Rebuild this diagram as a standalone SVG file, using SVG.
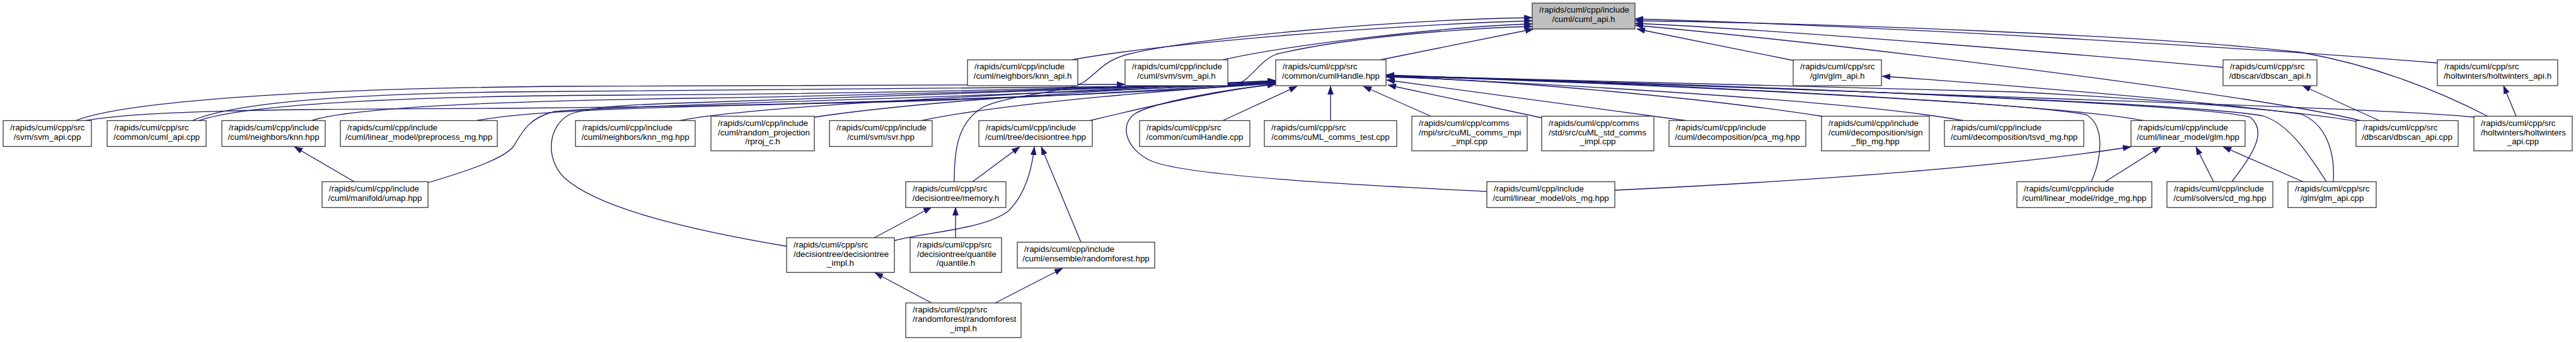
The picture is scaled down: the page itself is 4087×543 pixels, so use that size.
<svg xmlns="http://www.w3.org/2000/svg" width="4087" height="543" viewBox="0 0 4087 543">
<style>
.n rect{fill:#fff;stroke:#3a3a3a;stroke-width:1.3}
.n.f rect{fill:#bfbfbf}
text{font-family:"Liberation Sans",Arial,Helvetica,sans-serif;font-size:13.33px;fill:#000}
.c{text-anchor:middle}
#edges path{fill:none;stroke:#191970;stroke-width:1.3;marker-end:url(#ah)}
</style>
<defs>
<marker id="ah" markerUnits="userSpaceOnUse" markerWidth="14" markerHeight="11" refX="13" refY="4.7" orient="auto">
<path d="M0,0 L13,4.7 L0,9.4 z" fill="#191970" stroke="#191970" stroke-width="0.5"/>
</marker>
</defs>
<rect width="4087" height="543" fill="#fff"/>
<g id="edges">
<!-- to cuml_api.h -->
<path d="M2190,95 L2433,46"/>
<path d="M1940,95 C2050,70 2300,42 2431,38"/>
<path d="M1700,95 C1850,68 2200,40 2431,33"/>
<path d="M1514,288 C1514,240 1518,195 1560,170 C1600,150 1690,148 1720,130 C1745,112 1752,96 1790,86 C1900,60 2200,32 2431,28"/>
<path d="M305,191.5 C360,168 500,150 800,146 C1300,141 1800,138 1955,136 C1985,130 1995,98 2025,86 C2150,56 2350,44 2431,42"/>
<path d="M2850,97 L2597,46"/>
<path d="M3527,107 C3300,86 2800,46 2594,37"/>
<path d="M3745,191.5 C3600,155 3000,78 2594,40"/>
<path d="M3867,100 C3600,78 3000,42 2594,30"/>
<path d="M3947,184.5 C3880,150 3780,106 3650,83 C3400,55 2900,37 2594,33"/>
<!-- to svm_api.h -->
<path d="M120,191.5 C200,160 500,140 900,137 C1300,134 1600,136 1785,134"/>
<!-- to cumlHandle.hpp left bundle -->
<path d="M135,191.5 C220,176 420,173 800,172 C1300,168 1800,150 2024,132"/>
<path d="M315,191.5 C400,162 700,152 1000,151 C1500,148 1850,136 2024,128"/>
<path d="M494,191.5 C560,170 800,160 1100,156 C1500,150 1850,136 2024,129"/>
<path d="M756,191.5 C850,173 1100,169 1400,162 C1700,154 1900,138 2024,131"/>
<path d="M1079,191.5 C1200,166 1700,146 2024,128"/>
<path d="M1292,186 C1500,155 1850,139 2024,130"/>
<path d="M1462,191.5 C1600,162 1900,140 2024,132"/>
<path d="M1729,191.5 C1850,162 1950,142 2024,133"/>
<path d="M679,290 C740,272 800,252 815,232 C830,206 842,186 880,177 C1000,166 1700,151 2024,130"/>
<path d="M1248,391 C1100,366 950,332 895,282 C865,252 868,200 905,181 C940,169 1000,166 1100,163 C1500,152 1850,137 2024,131"/>
<path d="M2359,304 C2200,296 1900,282 1830,257 C1788,240 1774,200 1800,181 C1830,162 1950,141 2024,134"/>
<!-- to cumlHandle.hpp bottom -->
<path d="M1940,191.5 L2058,137"/>
<path d="M2111,191.5 L2111,137"/>
<path d="M2270,184.5 L2163,137"/>
<path d="M2446,187 L2202,135"/>
<!-- to cumlHandle.hpp right bundle -->
<path d="M2675,191.5 L2200,127"/>
<path d="M2893,185 C2700,155 2400,128 2199,122"/>
<path d="M3115,191.5 C3000,170 2700,145 2199,121"/>
<path d="M3401,191.5 C3300,170 2800,140 2199,120"/>
<path d="M3318,288.5 C3335,250 3340,200 3310,182 C3200,162 2600,131 2199,120"/>
<path d="M3541,288.5 C3570,250 3600,210 3570,186 C3500,166 2800,136 2199,120"/>
<path d="M3691,288.5 C3660,240 3630,196 3590,184 C3500,166 2800,136 2199,121"/>
<path d="M3740,193 C3650,176 3400,156 3200,146 C2800,133 2400,125 2199,120"/>
<path d="M3925,186 C3850,178 3600,168 3300,158 C2900,141 2500,128 2199,119"/>
<!-- glm_api.h -->
<path d="M3702,288.5 C3705,240 3690,196 3650,181 C3500,161 3200,136 2986,121"/>
<!-- glm.hpp -->
<path d="M2562,302 C2900,286 3200,262 3381,233"/>
<path d="M3340,288.5 L3428,233"/>
<path d="M3512,288.5 L3484,233"/>
<path d="M3654,288.5 L3527,233"/>
<!-- lower part -->
<path d="M562,288.5 L467,233"/>
<path d="M1543,288.5 L1618,233"/>
<path d="M1387,377.5 L1478,329"/>
<path d="M1419,382 C1470,368 1560,365 1600,335 C1630,305 1638,262 1641,233"/>
<path d="M1516,377.5 L1516,329"/>
<path d="M1715,384.5 L1652,233"/>
<path d="M1478,481 L1388,433"/>
<path d="M1579,481 L1686,426"/>
<path d="M3992,184.5 L3972,136"/>
<path d="M3775,191.5 L3653,136"/>
</g>
<g id="n_cuml_api_h" class="n f"><rect x="2431" y="5" width="163" height="41"/><text x="2442" y="20.3">/rapids/cuml/cpp/include</text><text class="c" x="2512.5" y="35">/cuml/cuml_api.h</text></g>
<g id="n_knn_api_h" class="n"><rect x="1535" y="95" width="175" height="41"/><text x="1546" y="110.3">/rapids/cuml/cpp/include</text><text class="c" x="1622.5" y="125">/cuml/neighbors/knn_api.h</text></g>
<g id="n_svm_api_h" class="n"><rect x="1785" y="95" width="163" height="41"/><text x="1796" y="110.3">/rapids/cuml/cpp/include</text><text class="c" x="1866.5" y="125">/cuml/svm/svm_api.h</text></g>
<g id="n_cumlHandle_hpp" class="n"><rect x="2024" y="95" width="175" height="41"/><text x="2035" y="110.3">/rapids/cuml/cpp/src</text><text class="c" x="2111.5" y="125">/common/cumlHandle.hpp</text></g>
<g id="n_glm_api_h" class="n"><rect x="2845" y="95" width="140" height="41"/><text x="2856" y="110.3">/rapids/cuml/cpp/src</text><text class="c" x="2915" y="125">/glm/glm_api.h</text></g>
<g id="n_dbscan_api_h" class="n"><rect x="3527" y="95" width="149" height="41"/><text x="3538" y="110.3">/rapids/cuml/cpp/src</text><text class="c" x="3601.5" y="125">/dbscan/dbscan_api.h</text></g>
<g id="n_holtwinters_api_h" class="n"><rect x="3867" y="95" width="191" height="41"/><text x="3878" y="110.3">/rapids/cuml/cpp/src</text><text class="c" x="3962.5" y="125">/holtwinters/holtwinters_api.h</text></g>
<g id="n_svm_api_cpp" class="n"><rect x="5" y="191.5" width="140" height="41"/><text x="16" y="206.8">/rapids/cuml/cpp/src</text><text class="c" x="75" y="221.5">/svm/svm_api.cpp</text></g>
<g id="n_cuml_api_cpp" class="n"><rect x="170" y="191.5" width="157" height="41"/><text x="181" y="206.8">/rapids/cuml/cpp/src</text><text class="c" x="248.5" y="221.5">/common/cuml_api.cpp</text></g>
<g id="n_knn_hpp" class="n"><rect x="352" y="191.5" width="164" height="41"/><text x="363" y="206.8">/rapids/cuml/cpp/include</text><text class="c" x="434" y="221.5">/cuml/neighbors/knn.hpp</text></g>
<g id="n_preprocess_mg_hpp" class="n"><rect x="540" y="191.5" width="249" height="41"/><text x="551" y="206.8">/rapids/cuml/cpp/include</text><text class="c" x="664.5" y="221.5">/cuml/linear_model/preprocess_mg.hpp</text></g>
<g id="n_knn_mg_hpp" class="n"><rect x="913" y="191.5" width="190" height="41"/><text x="924" y="206.8">/rapids/cuml/cpp/include</text><text class="c" x="1008" y="221.5">/cuml/neighbors/knn_mg.hpp</text></g>
<g id="n_rproj_c_h" class="n"><rect x="1128" y="184.5" width="164" height="55"/><text x="1139" y="199.8">/rapids/cuml/cpp/include</text><text x="1139" y="214.5">/cuml/random_projection</text><text class="c" x="1210" y="229.2">/rproj_c.h</text></g>
<g id="n_svr_hpp" class="n"><rect x="1316" y="191.5" width="163" height="41"/><text x="1327" y="206.8">/rapids/cuml/cpp/include</text><text class="c" x="1397.5" y="221.5">/cuml/svm/svr.hpp</text></g>
<g id="n_decisiontree_hpp" class="n"><rect x="1553" y="191.5" width="180" height="41"/><text x="1564" y="206.8">/rapids/cuml/cpp/include</text><text class="c" x="1643" y="221.5">/cuml/tree/decisiontree.hpp</text></g>
<g id="n_cumlHandle_cpp" class="n"><rect x="1808" y="191.5" width="175" height="41"/><text x="1819" y="206.8">/rapids/cuml/cpp/src</text><text class="c" x="1895.5" y="221.5">/common/cumlHandle.cpp</text></g>
<g id="n_comms_test_cpp" class="n"><rect x="2006" y="191.5" width="210" height="41"/><text x="2017" y="206.8">/rapids/cuml/cpp/src</text><text class="c" x="2111" y="221.5">/comms/cuML_comms_test.cpp</text></g>
<g id="n_mpi_impl_cpp" class="n"><rect x="2240" y="184.5" width="183" height="55"/><text x="2251" y="199.8">/rapids/cuml/cpp/comms</text><text x="2251" y="214.5">/mpi/src/cuML_comms_mpi</text><text class="c" x="2331.5" y="229.2">_impl.cpp</text></g>
<g id="n_std_impl_cpp" class="n"><rect x="2446" y="184.5" width="178" height="55"/><text x="2457" y="199.8">/rapids/cuml/cpp/comms</text><text x="2457" y="214.5">/std/src/cuML_std_comms</text><text class="c" x="2535" y="229.2">_impl.cpp</text></g>
<g id="n_pca_mg_hpp" class="n"><rect x="2648" y="191.5" width="217" height="41"/><text x="2659" y="206.8">/rapids/cuml/cpp/include</text><text class="c" x="2756.5" y="221.5">/cuml/decomposition/pca_mg.hpp</text></g>
<g id="n_sign_flip_mg_hpp" class="n"><rect x="2890" y="184.5" width="171" height="55"/><text x="2901" y="199.8">/rapids/cuml/cpp/include</text><text x="2901" y="214.5">/cuml/decomposition/sign</text><text class="c" x="2975.5" y="229.2">_flip_mg.hpp</text></g>
<g id="n_tsvd_mg_hpp" class="n"><rect x="3085" y="191.5" width="221" height="41"/><text x="3096" y="206.8">/rapids/cuml/cpp/include</text><text class="c" x="3195.5" y="221.5">/cuml/decomposition/tsvd_mg.hpp</text></g>
<g id="n_glm_hpp" class="n"><rect x="3381" y="191.5" width="181" height="41"/><text x="3392" y="206.8">/rapids/cuml/cpp/include</text><text class="c" x="3471.5" y="221.5">/cuml/linear_model/glm.hpp</text></g>
<g id="n_dbscan_api_cpp" class="n"><rect x="3738" y="191.5" width="162" height="41"/><text x="3749" y="206.8">/rapids/cuml/cpp/src</text><text class="c" x="3819" y="221.5">/dbscan/dbscan_api.cpp</text></g>
<g id="n_holtwinters_api_cpp" class="n"><rect x="3925" y="184.5" width="156" height="55"/><text x="3936" y="199.8">/rapids/cuml/cpp/src</text><text x="3936" y="214.5">/holtwinters/holtwinters</text><text class="c" x="4003" y="229.2">_api.cpp</text></g>
<g id="n_umap_hpp" class="n"><rect x="511" y="288.5" width="168" height="41"/><text x="522" y="303.8">/rapids/cuml/cpp/include</text><text class="c" x="595" y="318.5">/cuml/manifold/umap.hpp</text></g>
<g id="n_memory_h" class="n"><rect x="1437" y="288.5" width="159" height="41"/><text x="1448" y="303.8">/rapids/cuml/cpp/src</text><text class="c" x="1516.5" y="318.5">/decisiontree/memory.h</text></g>
<g id="n_ols_mg_hpp" class="n"><rect x="2359" y="288.5" width="203" height="41"/><text x="2370" y="303.8">/rapids/cuml/cpp/include</text><text class="c" x="2460.5" y="318.5">/cuml/linear_model/ols_mg.hpp</text></g>
<g id="n_ridge_mg_hpp" class="n"><rect x="3200" y="288.5" width="214" height="41"/><text x="3211" y="303.8">/rapids/cuml/cpp/include</text><text class="c" x="3307" y="318.5">/cuml/linear_model/ridge_mg.hpp</text></g>
<g id="n_cd_mg_hpp" class="n"><rect x="3438" y="288.5" width="168" height="41"/><text x="3449" y="303.8">/rapids/cuml/cpp/include</text><text class="c" x="3522" y="318.5">/cuml/solvers/cd_mg.hpp</text></g>
<g id="n_glm_api_cpp" class="n"><rect x="3630" y="288.5" width="140" height="41"/><text x="3641" y="303.8">/rapids/cuml/cpp/src</text><text class="c" x="3700" y="318.5">/glm/glm_api.cpp</text></g>
<g id="n_decisiontree_impl_h" class="n"><rect x="1248" y="377.5" width="171" height="55"/><text x="1259" y="392.8">/rapids/cuml/cpp/src</text><text x="1259" y="407.5">/decisiontree/decisiontree</text><text class="c" x="1333.5" y="422.2">_impl.h</text></g>
<g id="n_quantile_h" class="n"><rect x="1444" y="377.5" width="145" height="55"/><text x="1455" y="392.8">/rapids/cuml/cpp/src</text><text x="1455" y="407.5">/decisiontree/quantile</text><text class="c" x="1516.5" y="422.2">/quantile.h</text></g>
<g id="n_randomforest_hpp" class="n"><rect x="1614" y="384.5" width="218" height="41"/><text x="1625" y="399.8">/rapids/cuml/cpp/include</text><text class="c" x="1723" y="414.5">/cuml/ensemble/randomforest.hpp</text></g>
<g id="n_randomforest_impl_h" class="n"><rect x="1437" y="481" width="183" height="55"/><text x="1448" y="496.3">/rapids/cuml/cpp/src</text><text x="1448" y="511">/randomforest/randomforest</text><text class="c" x="1528.5" y="525.7">_impl.h</text></g>
</svg>
